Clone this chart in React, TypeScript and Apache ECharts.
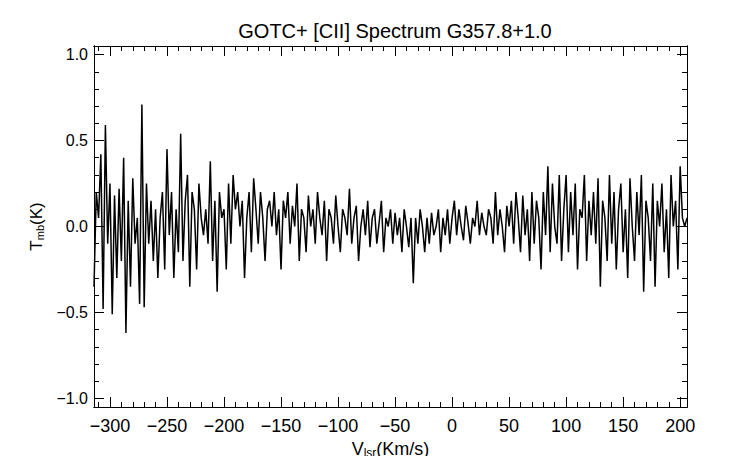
import { useEffect, useRef } from "react";
import * as echarts from "echarts";

// velocity channels: first channel and spacing (km/s)
const vStart = -314;
const vStep = 2;

// antenna temperature per channel (K)
const tmb = [
  -0.35, 0.2, 0.05, 0.42, -0.48, 0.59, -0.1, 0.25, -0.51, 0.18, -0.3, 0.22, -0.2, 0.4, -0.62, 0.15, -0.35, 0.28, -0.1, 0.05, -0.45, 0.71, -0.47, 0.25, -0.1, 0.15,
  -0.2, 0.1, -0.3, 0.05, 0.2, -0.25, 0.45, -0.05, 0.2, -0.3, 0.1, -0.15, 0.54, -0.2, 0.15, 0.3, -0.35, 0.2, 0.1, -0.25, 0.25, 0.05, -0.05, 0.1, -0.1, 0.38,
  -0.2, 0.15, -0.38, 0.2, 0.05, 0.1, -0.25, 0.25, -0.1, 0.3, 0.1, 0.2, 0.0, 0.15, -0.3, 0.05, 0.2, -0.15, 0.28, 0.1, -0.1, 0.2, 0.05, -0.2, 0.1, 0.15,
  0.0, 0.2, -0.05, 0.1, -0.25, 0.15, 0.05, 0.2, -0.1, 0.12, 0.0, 0.25, -0.2, 0.1, 0.05, -0.15, 0.18, 0.0, 0.1, -0.1, 0.2, 0.05, -0.05, 0.15, -0.2, 0.1,
  0.05, -0.1, 0.18, 0.0, -0.15, 0.1, 0.05, -0.05, 0.22, -0.1, 0.05, 0.12, -0.2, 0.0, 0.1, -0.05, 0.15, -0.12, 0.05, 0.1, -0.1, 0.02, 0.15, -0.15, 0.05, 0.0,
  0.1, -0.1, 0.08, -0.05, 0.05, -0.15, 0.1, 0.0, -0.12, 0.05, -0.33, 0.05, -0.1, 0.1, 0.0, -0.15, 0.05, -0.1, 0.08, -0.05, 0.0, 0.1, -0.15, 0.05, -0.05, 0.1,
  -0.1, 0.05, 0.15, -0.05, 0.1, 0.0, -0.08, 0.12, 0.02, -0.1, 0.05, 0.0, 0.15, -0.05, 0.08, 0.0, -0.05, 0.1, 0.05, -0.1, 0.2, -0.05, 0.1, 0.0, -0.15, 0.12,
  0.0, 0.15, -0.1, 0.2, 0.05, -0.15, 0.18, -0.05, 0.1, -0.2, 0.2, -0.1, 0.15, 0.05, -0.25, 0.2, -0.05, 0.35, -0.15, 0.25, 0.0, -0.1, 0.3, -0.2, 0.1, 0.3,
  -0.15, 0.2, -0.05, 0.25, -0.25, 0.1, 0.05, 0.3, -0.2, 0.15, -0.05, 0.2, -0.1, 0.28, -0.35, 0.15, 0.05, -0.2, 0.3, -0.1, 0.2, -0.25, 0.1, 0.25, -0.15, 0.1,
  -0.3, 0.28, 0.0, -0.2, 0.2, -0.05, 0.3, -0.38, 0.15, 0.05, -0.2, 0.25, -0.35, 0.15, 0.0, 0.25, -0.15, 0.1, -0.3, 0.3, 0.0, 0.15, -0.25, 0.35, 0.05, 0.0,
  0.05,
];

const xMajor = [-300, -250, -200, -150, -100, -50, 0, 50, 100, 150, 200];
const xMinor = [-310, -290, -280, -270, -260, -240, -230, -220, -210, -190, -180, -170, -160, -140, -130, -120, -110, -90, -80, -70, -60, -40, -30, -20, -10, 10, 20, 30, 40, 60, 70, 80, 90, 110, 120, 130, 140, 160, 170, 180, 190];
const yMajor = [-1.0, -0.5, 0.0, 0.5, 1.0];
const yMinor = [-0.9, -0.8, -0.7, -0.6, -0.4, -0.3, -0.2, -0.1, 0.1, 0.2, 0.3, 0.4, 0.6, 0.7, 0.8, 0.9];

const font = '"Liberation Sans", Arial, sans-serif';
const minus = (s: string) => s.replace("-", "\u2212");

export default function App() {
  const ref = useRef<HTMLDivElement>(null);

  useEffect(() => {
    if (!ref.current) return;
    const chart = echarts.init(ref.current, null, { renderer: "svg" });

    const line = { show: true, onZero: false, lineStyle: { color: "#000", width: 1 } };
    const xAx = (pos: string, ticks: number[], len: number, labels: boolean) => ({
      type: "value",
      position: pos,
      min: -314,
      max: 206,
      axisLine: line,
      splitLine: { show: false },
      axisTick: { show: true, inside: true, length: len, customValues: ticks, lineStyle: { color: "#000" } },
      axisLabel: labels
        ? { show: true, customValues: ticks, color: "#000", fontSize: 18, fontFamily: font, margin: 10, formatter: (v: number) => minus(String(v)) }
        : { show: false },
    });
    const yAx = (pos: string, ticks: number[], len: number, labels: boolean) => ({
      type: "value",
      position: pos,
      min: -1.05,
      max: 1.05,
      axisLine: line,
      splitLine: { show: false },
      axisTick: { show: true, inside: true, length: len, customValues: ticks, lineStyle: { color: "#000" } },
      axisLabel: labels
        ? { show: true, customValues: ticks, color: "#000", fontSize: 16, fontFamily: font, margin: 6, formatter: (v: number) => minus(v.toFixed(1)) }
        : { show: false },
    });

    const mainX = {
      ...xAx("bottom", xMajor, 10, true),
      name: "{a|V}{s|lsr}{a|(Km/s)}",
      nameLocation: "middle",
      nameGap: 30,
      nameTextStyle: { color: "#000", rich: { a: { fontSize: 18, fontFamily: font, color: "#000" }, s: { fontSize: 12, fontFamily: font, color: "#000", padding: [8, 0, 0, 0] } } },
    };
    const mainY = {
      ...yAx("left", yMajor, 10, true),
      name: "{a|T}{s|mb}{a|(K)}",
      nameLocation: "middle",
      nameGap: 48,
      nameTextStyle: { color: "#000", rich: { a: { fontSize: 17, fontFamily: font, color: "#000" }, s: { fontSize: 11, fontFamily: font, color: "#000", padding: [8, 0, 0, 0] } } },
    };

    chart.setOption({
      animation: false,
      backgroundColor: "#fff",
      title: {
        text: "GOTC+ [CII] Spectrum G357.8+1.0",
        left: 390,
        top: 16,
        textAlign: "center",
        textStyle: { fontSize: 20, fontWeight: "normal", fontFamily: font, color: "#000" },
      },
      grid: { left: 94, right: 55, top: 46, bottom: 57 },
      xAxis: [mainX, xAx("bottom", xMinor, 5, false), xAx("top", xMajor, 10, false), xAx("top", xMinor, 5, false)],
      yAxis: [mainY, yAx("left", yMinor, 5, false), yAx("right", yMajor, 10, false), yAx("right", yMinor, 5, false)],
      series: [
        {
          type: "line",
          xAxisIndex: 0,
          yAxisIndex: 0,
          data: tmb.map((t, i) => [vStart + i * vStep, t]),
          showSymbol: false,
          lineStyle: { color: "#000", width: 1.5 },
        },
      ],
    });
    return () => chart.dispose();
  }, []);

  return <div ref={ref} style={{ width: 742, height: 464, margin: -8 }} />;
}
